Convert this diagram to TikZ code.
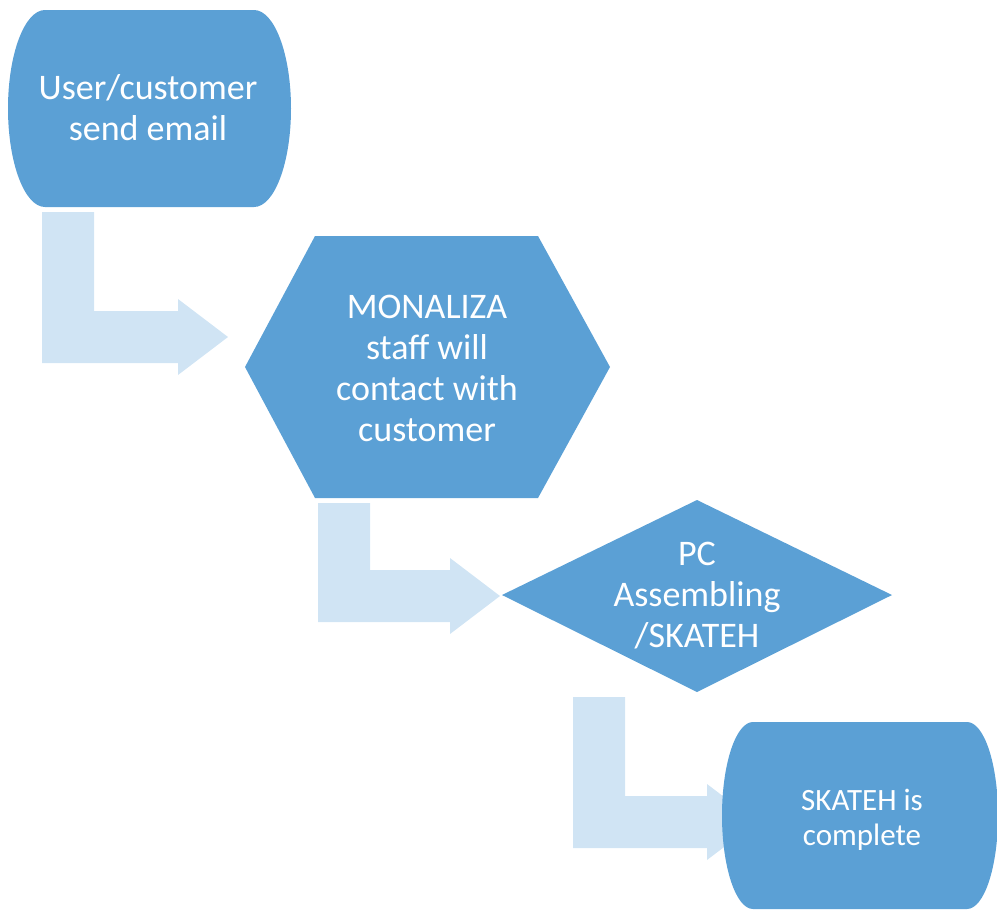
\documentclass[tikz,border=0pt]{standalone}
\usepackage{fontspec}
\setmainfont{Carlito}
\usetikzlibrary{calc}
\definecolor{shapeblue}{RGB}{91,160,213}
\definecolor{arrowblue}{RGB}{208,228,244}
\tikzset{
  shapefill/.style={fill=shapeblue},
  arrowshape/.style={fill=arrowblue},
  lbl/.style={text=white, align=center, inner sep=0pt, font=\fontsize{36}{41}\selectfont},
  lblsmall/.style={lbl, font=\fontsize{31}{35}\selectfont},
}
\newcommand\bentarrow[2]{%
  \fill[arrowshape] let \p1=(#1), \p2=(#2) in
  (\x1-26pt,\y1) -- (\x1+26pt,\y1) -- (\x1+26pt,\y2+26pt) -- (\x2-50pt,\y2+26pt)
  -- (\x2-50pt,\y2+38pt) -- (\x2,\y2) -- (\x2-50pt,\y2-38pt) -- (\x2-50pt,\y2-26pt)
  -- (\x1-26pt,\y2-26pt) -- cycle;}
\begin{document}
\begin{tikzpicture}[x=1pt,y=-1pt]
\useasboundingbox (0,0) rectangle (997,919);
% connector end points
\coordinate (a1s) at (68,212);
\coordinate (a1e) at (228,337);
\coordinate (a2s) at (344,503);
\coordinate (a2e) at (500,596);
\coordinate (a3s) at (599,697);
\coordinate (a3e) at (757,822);
% bent block arrows
\bentarrow{a1s}{a1e}
\bentarrow{a2s}{a2e}
\bentarrow{a3s}{a3e}
% shape 1
\fill[shapefill] (45,10) -- (254,10) .. controls (274.4,10) and (291,54.1) .. (291,108.5)
  .. controls (291,162.9) and (274.4,207) .. (254,207) -- (45,207)
  .. controls (24.6,207) and (8,162.9) .. (8,108.5)
  .. controls (8,54.1) and (24.6,10) .. (45,10) -- cycle;
% hexagon
\fill[shapefill] (245,367) -- (315,236) -- (538,236) -- (610,367) -- (538,498) -- (315,498) -- cycle;
% diamond
\fill[shapefill] (502,595) -- (697,500) -- (892,595) -- (697,692) -- cycle;
% shape 4
\fill[shapefill] (753,722) -- (967,722) .. controls (984.1,722) and (998,763.9) .. (998,815.5)
  .. controls (998,867.1) and (984.1,909) .. (967,909) -- (753,909)
  .. controls (735.9,909) and (722,867.1) .. (722,815.5)
  .. controls (722,763.9) and (735.9,722) .. (753,722) -- cycle;
% labels
\node[lbl] (n1) at (148,108) {User/customer\\send email};
\node[lbl] (n2) at (427,368) {MONALIZA\\staff will\\contact with\\customer};
\node[lbl] (n3) at (697,596) {PC\\Assembling\\/SKATEH};
\node[lblsmall] (n4) at (862,820) {SKATEH is\\complete};
\end{tikzpicture}
\end{document}
